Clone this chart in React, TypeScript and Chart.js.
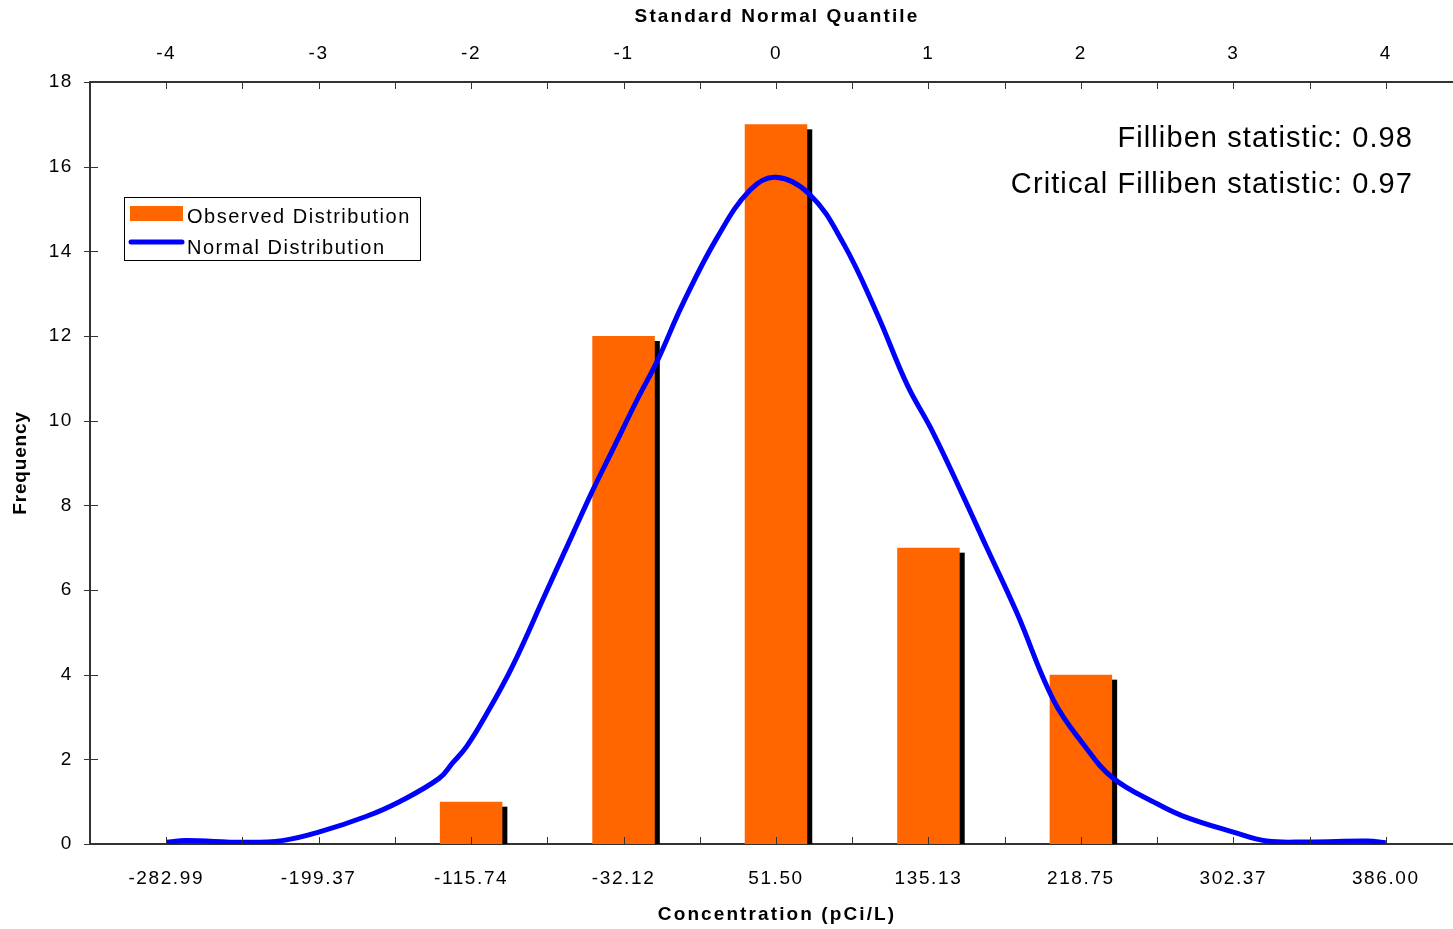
import React, { useEffect, useRef } from "react";
import { Chart, registerables } from "chart.js";

Chart.register(...registerables);

// ---- data ----
const quantileTicks = [-4, -3, -2, -1, 0, 1, 2, 3, 4];
const concentrationLabels = ["-282.99", "-199.37", "-115.74", "-32.12", "51.50", "135.13", "218.75", "302.37", "386.00"];
const binQuantiles = [-2, -1, 0, 1, 2];
const binFrequencies = [1, 12, 17, 7, 4];
const curveQuantiles = [-4.0, -3.87, -3.5, -3.24, -3.0, -2.69, -2.47, -2.21, -2.12, -2.03, -1.91, -1.73, -1.51, -1.33, -1.2, -1.07, -0.91, -0.78, -0.61, -0.39, -0.17, 0, 0.22, 0.44, 0.66, 0.86, 1.03, 1.23, 1.38, 1.58, 1.82, 2.02, 2.21, 2.5, 2.67, 3.0, 3.22, 3.5, 3.88, 4.0];
const curveFrequencies = [0.04, 0.08, 0.04, 0.08, 0.28, 0.65, 1.0, 1.55, 1.92, 2.3, 3.0, 4.19, 5.93, 7.35, 8.37, 9.32, 10.5, 11.4, 12.77, 14.3, 15.45, 15.75, 15.35, 14.2, 12.55, 10.85, 9.72, 8.2, 7.02, 5.46, 3.4, 2.34, 1.56, 0.95, 0.66, 0.28, 0.07, 0.05, 0.07, 0.03];
const statLines = ["Filliben statistic: 0.98", "Critical Filliben statistic: 0.97"];
const legendLabels = ["Observed Distribution", "Normal Distribution"];
const axisTitles = { top: "Standard Normal Quantile", bottom: "Concentration (pCi/L)", left: "Frequency" };

const FONT = "'Liberation Sans', Arial, sans-serif";
const ORANGE = "#FF6600";
const BLUE = "#0000FF";
const AXIS = "#333333";

const spacingPlugin = {
  id: "spacing",
  beforeDraw(chart: any) {
    (chart.ctx as any).letterSpacing = "1.6px";
  },
};

const shadowPlugin = {
  id: "barShadow",
  beforeDatasetsDraw(chart: any) {
    const ctx = chart.ctx;
    const meta = chart.getDatasetMeta(0);
    ctx.save();
    ctx.fillStyle = "#000000";
    meta.data.forEach((el: any) => {
      const left = el.x - el.width / 2;
      const h = el.base - el.y;
      ctx.fillRect(left + 5, el.y + 5, el.width, h - 5);
    });
    ctx.restore();
  },
};

const decorPlugin = {
  id: "decor",
  afterDraw(chart: any) {
    const ctx = chart.ctx;
    const xs = chart.scales.x;
    const ys = chart.scales.y;
    const area = chart.chartArea;
    ctx.save();
    ctx.strokeStyle = AXIS;
    ctx.lineWidth = 1;
    for (let q = -4.5; q <= 4.5001; q += 0.5) {
      const px = Math.round(xs.getPixelForValue(q)) + 0.5;
      ctx.beginPath();
      ctx.moveTo(px, area.top);
      ctx.lineTo(px, area.top + 7);
      ctx.moveTo(px, area.bottom);
      ctx.lineTo(px, area.bottom - 7);
      ctx.stroke();
    }
    for (let v = 0; v <= 18; v += 2) {
      const py = Math.round(ys.getPixelForValue(v)) + 0.5;
      ctx.beginPath();
      ctx.moveTo(area.left - 6, py);
      ctx.lineTo(area.left + 8, py);
      ctx.stroke();
    }
    // axis titles
    ctx.fillStyle = "#000";
    ctx.font = `bold 19px ${FONT}`;
    (ctx as any).letterSpacing = "2.1px";
    ctx.textAlign = "center";
    ctx.textBaseline = "middle";
    const cx = (area.left + area.right) / 2;
    ctx.fillText(axisTitles.top, cx + 1, 17);
    ctx.fillText(axisTitles.bottom, cx + 1, 915);
    (ctx as any).letterSpacing = "0.8px";
    ctx.save();
    ctx.translate(21, (area.top + area.bottom) / 2);
    ctx.rotate(-Math.PI / 2);
    ctx.fillText(axisTitles.left, 0, 0);
    ctx.restore();
    // statistics text
    ctx.font = `29px ${FONT}`;
    (ctx as any).letterSpacing = "1.1px";
    ctx.textAlign = "right";
    ctx.textBaseline = "alphabetic";
    ctx.fillText(statLines[0], 1413, 147);
    ctx.fillText(statLines[1], 1413, 193);
    // legend
    (ctx as any).letterSpacing = "1.5px";
    ctx.strokeStyle = "#000";
    ctx.lineWidth = 1;
    ctx.strokeRect(124.5, 197.5, 296, 63);
    ctx.fillStyle = ORANGE;
    ctx.fillRect(130, 206, 53, 15);
    ctx.strokeStyle = BLUE;
    ctx.lineWidth = 5;
    ctx.lineCap = "round";
    ctx.beginPath();
    ctx.moveTo(131, 242);
    ctx.lineTo(182, 242);
    ctx.stroke();
    ctx.fillStyle = "#000";
    ctx.font = `20px ${FONT}`;
    ctx.textAlign = "left";
    ctx.textBaseline = "middle";
    ctx.fillText(legendLabels[0], 187, 217);
    ctx.fillText(legendLabels[1], 187, 248);
    ctx.restore();
  },
};

export default function App() {
  const ref = useRef<HTMLCanvasElement | null>(null);
  useEffect(() => {
    if (!ref.current) return;
    const chart = new Chart(ref.current, {
      type: "bar",
      data: {
        datasets: [
          {
            type: "bar",
            label: legendLabels[0],
            data: binQuantiles.map((q, i) => ({ x: q, y: binFrequencies[i] })),
            backgroundColor: ORANGE,
            borderWidth: 0,
            barPercentage: 0.41,
            categoryPercentage: 1,
            order: 2,
            xAxisID: "x",
          },
          {
            type: "line",
            label: legendLabels[1],
            data: curveQuantiles.map((q, i) => ({ x: q, y: curveFrequencies[i] })),
            borderColor: BLUE,
            borderWidth: 5,
            pointRadius: 0,
            tension: 0.4,
            fill: false,
            order: 1,
            xAxisID: "x",
          },
        ] as any,
      },
      options: {
        animation: false,
        responsive: false,
        devicePixelRatio: 1,
        layout: { padding: 0 },
        plugins: { legend: { display: false }, tooltip: { enabled: false } },
        scales: {
          x: {
            type: "linear",
            position: "bottom",
            min: -4.5,
            max: 4.5,
            offset: false,
            afterBuildTicks: (s: any) => {
              s.ticks = quantileTicks.map((v) => ({ value: v }));
            },
            afterFit: (s: any) => {
              s.height = 85;
            },
            ticks: {
              callback: (v: any) => {
                const i = quantileTicks.indexOf(Number(v));
                return i >= 0 ? concentrationLabels[i] : "";
              },
              font: { family: FONT, size: 19 },
              color: "#000",
              padding: 23,
              maxRotation: 0,
              autoSkip: false,
            },
            grid: { display: false, drawTicks: false, offset: false },
            border: { display: true, color: AXIS, width: 2 },
            title: { display: false },
          },
          x2: {
            type: "linear",
            position: "top",
            min: -4.5,
            max: 4.5,
            offset: false,
            afterBuildTicks: (s: any) => {
              s.ticks = quantileTicks.map((v) => ({ value: v }));
            },
            afterFit: (s: any) => {
              s.height = 82;
            },
            ticks: {
              callback: (v: any) => String(v),
              font: { family: FONT, size: 19 },
              color: "#000",
              padding: 17,
              maxRotation: 0,
              autoSkip: false,
            },
            grid: { display: false, drawTicks: false, offset: false },
            border: { display: true, color: AXIS, width: 2 },
            title: { display: false },
          },
          y: {
            type: "linear",
            position: "left",
            min: 0,
            max: 18,
            afterFit: (s: any) => {
              s.width = 90;
            },
            ticks: {
              stepSize: 2,
              font: { family: FONT, size: 19 },
              color: "#000",
              padding: 17,
            },
            grid: { display: false, drawTicks: false },
            border: { display: true, color: AXIS, width: 2 },
            title: { display: false },
          },
        },
      } as any,
      plugins: [spacingPlugin, shadowPlugin, decorPlugin],
    });
    return () => chart.destroy();
  }, []);

  return (
    <div style={{ position: "absolute", left: 0, top: 0, width: 1453, height: 929, overflow: "hidden", background: "#fff" }}>
      <canvas ref={ref} width={1462} height={929} style={{ display: "block" }} />
    </div>
  );
}
